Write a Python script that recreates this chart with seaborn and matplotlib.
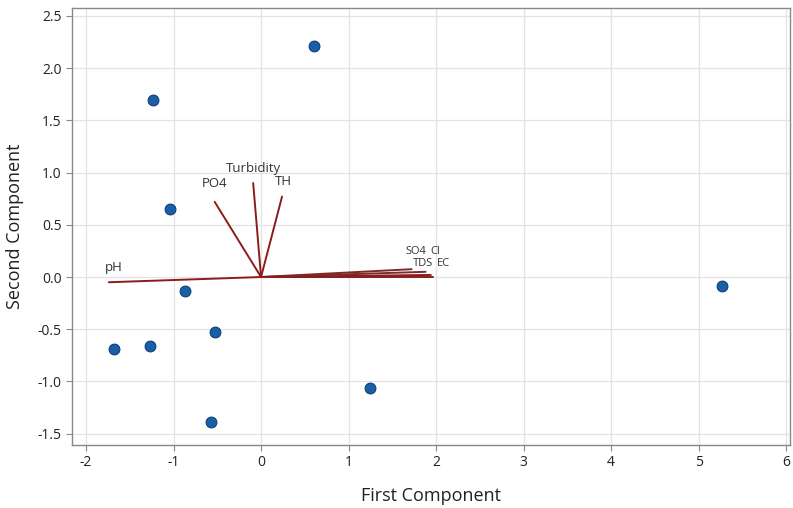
import matplotlib
matplotlib.use("Agg")
import matplotlib.pyplot as plt
import seaborn as sns
import pandas as pd

# Scores
score_x = [0.61, -1.24, -1.04, -0.87, -1.68, -1.27, -0.53, -0.57, 1.25, 5.27]
score_y = [2.21, 1.69, 0.65, -0.13, -0.69, -0.66, -0.53, -1.39, -1.065, -0.09]

# Loadings (vector end points)
var_names = ["pH", "PO4", "Turbidity", "TH", "SO4", "Cl", "TDS", "EC"]
load_x = [-1.74, -0.53, -0.09, 0.24, 1.72, 1.88, 1.94, 1.96]
load_y = [-0.05, 0.72, 0.90, 0.77, 0.075, 0.05, 0.02, 0.00]
label_x = [-1.79, -0.68, -0.40, 0.16, 1.65, 1.93, 1.74, 2.01]
label_y = [0.03, 0.83, 0.98, 0.85, 0.19, 0.19, 0.075, 0.075]

sns.set_theme(style="whitegrid")
plt.rcParams['font.family'] = ['Open Sans', 'DejaVu Sans']

fig = plt.figure(figsize=(7.93, 5.08), dpi=100)
ax = fig.add_axes([0.0908, 0.124, 0.905, 0.86])

df = pd.DataFrame({"x": score_x, "y": score_y})
sns.scatterplot(data=df, x="x", y="y", ax=ax, s=60, color="#1a5ea8",
                edgecolor="#0e3f78", linewidth=0.8, zorder=3)

for i, name in enumerate(var_names):
    col = "#8b1c1c"
    if name in ("SO4", "Cl"):
        col = "#7a2a2a"
    ax.plot([0, load_x[i]], [0, load_y[i]], color=col, lw=1.4, zorder=2)
    fs = 9.5 if i < 4 else 8
    ax.text(label_x[i], label_y[i], name, fontsize=fs, color="#333333",
            ha="left", va="bottom", zorder=4)

ax.set_xlim(-2.16, 6.04)
ax.set_ylim(-1.608, 2.574)
ax.set_xticks([-2, -1, 0, 1, 2, 3, 4, 5, 6])
ax.set_yticks([-1.5, -1.0, -0.5, 0.0, 0.5, 1.0, 1.5, 2.0, 2.5])
ax.set_xticklabels(["-2", "-1", "0", "1", "2", "3", "4", "5", "6"])
ax.set_yticklabels(["-1.5", "-1.0", "-0.5", "0.0", "0.5", "1.0", "1.5", "2.0", "2.5"])
ax.grid(True, color="#e3e3e3", lw=0.9)
for sp in ax.spines.values():
    sp.set_color("#888888")
    sp.set_linewidth(1.0)
ax.tick_params(axis="both", which="both", direction="out", length=4, width=0.8,
               color="#888888", labelsize=10, labelcolor="#222222",
               bottom=True, left=True)
ax.set_xlabel("First Component", fontsize=13, color="#222222", labelpad=12)
ax.set_ylabel("Second Component", fontsize=13, color="#222222", labelpad=10)

fig.savefig("out.png", dpi=100)
